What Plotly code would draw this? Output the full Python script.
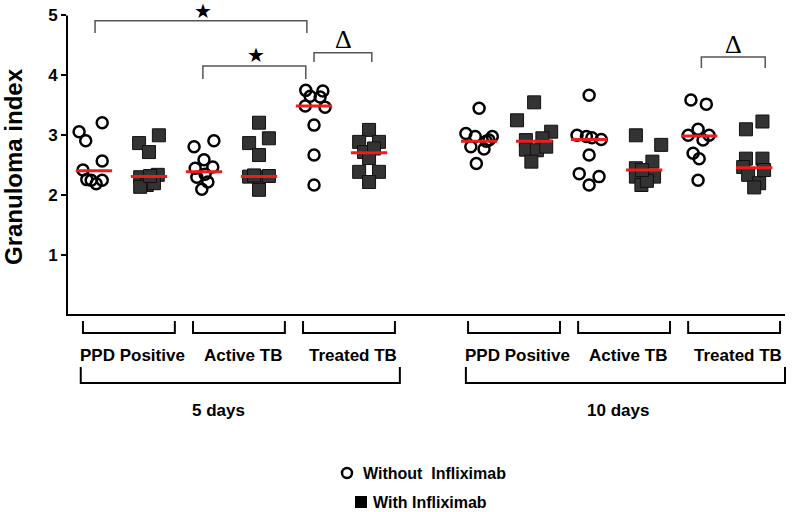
import plotly.graph_objects as go

W, H = 792, 512

# ---------------- data ----------------
days = ["5 days", "10 days"]
groups = ["PPD Positive", "Active TB", "Treated TB"]
y_ticks = [1, 2, 3, 4, 5]
legend_labels = ["Without  Infliximab", "With Infliximab"]

ppd5_without = [3.06, 3.21, 2.91, 2.57, 2.42, 2.25, 2.19, 2.25, 2.26]
ppd5_with = [3.00, 2.87, 2.72, 2.30, 2.34, 2.17, 2.14, 2.20, 2.32]
active5_without = [2.91, 2.81, 2.59, 2.45, 2.47, 2.30, 2.22, 2.10, 2.35]
active5_with = [3.21, 2.95, 2.87, 2.67, 2.31, 2.30, 2.32, 2.09, 2.33]
treated5_without = [3.75, 3.74, 3.65, 3.64, 3.49, 3.47, 3.17, 2.67, 2.17]
treated5_with = [3.09, 2.89, 2.89, 2.72, 2.78, 2.62, 2.39, 2.39, 2.22]
ppd10_without = [3.45, 3.03, 2.98, 2.98, 2.92, 2.81, 2.77, 2.53, 2.90]
ppd10_with = [3.55, 3.25, 3.06, 2.92, 2.95, 2.76, 2.75, 2.81, 2.56]
active10_without = [3.67, 3.00, 2.98, 2.96, 2.93, 2.67, 2.36, 2.31, 2.17]
active10_with = [3.00, 2.84, 2.45, 2.56, 2.31, 2.31, 2.17, 2.24, 2.42]
treated10_without = [3.59, 3.52, 3.10, 3.00, 3.00, 2.92, 2.70, 2.61, 2.25]
treated10_with = [3.23, 3.10, 2.61, 2.61, 2.42, 2.47, 2.34, 2.20, 2.13]

# horizontal scatter of each point inside its column
jit_ppd5_without = [-0.27, 0.15, -0.15, 0.15, -0.20, -0.05, 0.04, 0.15, -0.13]
jit_ppd5_with = [0.18, -0.18, 0.00, -0.16, 0.16, -0.04, -0.16, 0.09, 0.02]
jit_active5_without = [0.18, -0.18, 0.00, -0.16, 0.16, -0.13, 0.07, -0.04, 0.02]
jit_active5_with = [0.00, 0.18, -0.18, 0.00, -0.18, 0.00, 0.18, 0.00, -0.09]
jit_treated5_without = [-0.15, 0.16, -0.07, 0.11, -0.16, 0.20, 0.00, 0.00, 0.00]
jit_treated5_with = [0.00, -0.18, 0.18, -0.09, 0.09, 0.00, -0.18, 0.18, 0.00]
jit_ppd10_without = [0.00, -0.24, -0.07, 0.24, 0.18, -0.15, 0.09, -0.05, 0.13]
jit_ppd10_with = [0.00, -0.31, 0.31, -0.15, 0.15, -0.15, 0.05, 0.22, -0.05]
jit_active10_without = [0.00, -0.22, -0.05, 0.05, 0.22, 0.00, -0.18, 0.18, 0.00]
jit_active10_with = [-0.15, 0.31, -0.15, 0.15, 0.18, -0.15, -0.05, 0.05, -0.04]
jit_treated10_without = [-0.15, 0.13, -0.02, -0.20, 0.18, 0.07, -0.11, 0.00, -0.02]
jit_treated10_with = [0.15, -0.15, -0.15, 0.15, 0.18, -0.20, -0.11, 0.09, 0.00]

median_without = [2.41, 2.39, 3.49, 2.90, 2.93, 2.99]
median_with = [2.31, 2.31, 2.71, 2.90, 2.42, 2.46]

series_without = [ppd5_without, active5_without, treated5_without,
                  ppd10_without, active10_without, treated10_without]
series_with = [ppd5_with, active5_with, treated5_with,
               ppd10_with, active10_with, treated10_with]
jit_without = [jit_ppd5_without, jit_active5_without, jit_treated5_without,
               jit_ppd10_without, jit_active10_without, jit_treated10_without]
jit_with = [jit_ppd5_with, jit_active5_with, jit_treated5_with,
            jit_ppd10_with, jit_active10_with, jit_treated10_with]

# ---------------- layout geometry (screen pixels) ----------------
XR = [-0.49, 12.56]
YR = [0, 5.175]
PL, PR, PT, PB = 67, 785, 5, 315


def px(x):
    return x / W


def py(y):
    return 1 - y / H


def kx(k):
    return PL + (k - XR[0]) / (XR[1] - XR[0]) * (PR - PL)


# column positions: 5 days -> 0..5, gap, 10 days -> 7..12
col_pos = []
for d in range(len(days)):
    for g in range(len(groups)):
        base = d * 7 + g * 2
        col_pos.append((base, base + 1))

fig = go.Figure()

CIRCLE = dict(symbol="circle-open", size=11, color="black", line=dict(width=2.5, color="black"))
SQUARE = dict(symbol="square", size=13, color="#333333", line=dict(width=1, color="#111111"))

for i, (p0, p1) in enumerate(col_pos):
    fig.add_trace(go.Scatter(
        x=[p0 + j for j in jit_without[i]], y=series_without[i], mode="markers",
        marker=CIRCLE, showlegend=False, cliponaxis=False, hoverinfo="y"))
    fig.add_trace(go.Scatter(
        x=[p1 + j for j in jit_with[i]], y=series_with[i], mode="markers",
        marker=SQUARE, showlegend=False, cliponaxis=False, hoverinfo="y"))

for i, (p0, p1) in enumerate(col_pos):
    for p, m in ((p0, median_without[i]), (p1, median_with[i])):
        fig.add_trace(go.Scatter(
            x=[p - 0.33, p + 0.33], y=[m, m], mode="lines",
            line=dict(color="#ee1c1c", width=3), showlegend=False, hoverinfo="skip"))

shapes = []
annotations = []
LBL_FONT = dict(family="Liberation Sans, Arial", size=17, color="black", weight="bold")

# axis lines
shapes.append(dict(type="line", xref="paper", yref="paper", x0=px(PL), x1=px(PL),
                   y0=py(PB + 1), y1=py(15.5), line=dict(color="black", width=2)))
shapes.append(dict(type="line", xref="paper", yref="paper", x0=px(PL - 1), x1=px(PR),
                   y0=py(PB), y1=py(PB), line=dict(color="black", width=2)))


def bracket(x0, x1, ytop, ybot, opening_up, color="black", width=2):
    if opening_up:
        path = f"M {px(x0)},{py(ytop)} L {px(x0)},{py(ybot)} L {px(x1)},{py(ybot)} L {px(x1)},{py(ytop)}"
    else:
        path = f"M {px(x0)},{py(ybot)} L {px(x0)},{py(ytop)} L {px(x1)},{py(ytop)} L {px(x1)},{py(ybot)}"
    shapes.append(dict(type="path", xref="paper", yref="paper", path=path,
                       line=dict(color=color, width=width)))


# group brackets and labels under the axis
day_label_x = [218, 618]
for d in range(len(days)):
    for g in range(len(groups)):
        p0, p1 = col_pos[d * 3 + g]
        bracket(kx(p0 - 0.2), kx(p1 + 0.47), 321, 333, True)
        annotations.append(dict(text=groups[g], x=px(kx(p0 + 0.7)), y=py(355),
                                xref="paper", yref="paper", showarrow=False,
                                xanchor="center", yanchor="middle", font=LBL_FONT))
    first = col_pos[d * 3][0]
    last = col_pos[d * 3 + 2][1]
    bracket(kx(first - 0.24), kx(last + 0.56), 367, 383, True)
    annotations.append(dict(text=days[d], x=px(day_label_x[d]), y=py(410),
                            xref="paper", yref="paper", showarrow=False,
                            xanchor="center", yanchor="middle", font=LBL_FONT))

# significance brackets
GREY = "#555555"
bracket(kx(0.02), kx(3.87), 20.7, 33, False, GREY, 1.5)
bracket(kx(1.98), kx(3.85), 66, 79, False, GREY, 1.5)
bracket(kx(4.0), kx(5.05), 52.7, 62, False, GREY, 1.5)
bracket(kx(11.04), kx(12.2), 57, 68, False, GREY, 1.5)
STAR = dict(family="DejaVu Sans", size=20, color="black")
DELTA = dict(family="Liberation Serif", size=26, color="black")
for (x, y, t, f) in [(kx(1.99), 11, "★", STAR), (kx(2.95), 55, "★", STAR),
                     (kx(4.53), 39, "Δ", DELTA), (kx(11.62), 44, "Δ", DELTA)]:
    annotations.append(dict(text=t, x=px(x), y=py(y), xref="paper", yref="paper",
                            showarrow=False, xanchor="center", yanchor="middle", font=f))

# y title
annotations.append(dict(text="Granuloma index", x=px(13), y=py(167), xref="paper", yref="paper",
                        showarrow=False, textangle=-90, xanchor="center", yanchor="middle",
                        font=dict(family="Liberation Sans, Arial", size=24, color="black", weight="bold")))

# legend (manual)
LEG_FONT = dict(family="Liberation Sans, Arial", size=16, color="black", weight="bold")
shapes.append(dict(type="circle", xref="paper", yref="paper",
                   x0=px(342), x1=px(352), y0=py(468), y1=py(478),
                   line=dict(color="black", width=2.5)))
shapes.append(dict(type="rect", xref="paper", yref="paper",
                   x0=px(355), x1=px(367), y0=py(496), y1=py(508),
                   fillcolor="black", line=dict(color="black", width=0)))
annotations.append(dict(text=legend_labels[0], x=px(361), y=py(473), xref="paper", yref="paper",
                        showarrow=False, xanchor="left", yanchor="middle", font=LEG_FONT))
annotations.append(dict(text=legend_labels[1], x=px(371), y=py(502), xref="paper", yref="paper",
                        showarrow=False, xanchor="left", yanchor="middle", font=LEG_FONT))

fig.update_layout(
    width=W, height=H, margin=dict(l=0, r=0, t=0, b=0),
    paper_bgcolor="white", plot_bgcolor="white",
    xaxis=dict(domain=[px(PL), px(PR)], range=XR, visible=False, fixedrange=True),
    yaxis=dict(domain=[py(PB), py(PT)], range=YR, tickvals=y_ticks, ticks="outside",
               ticklen=5, tickwidth=2, tickcolor="black", showline=False, showgrid=False,
               zeroline=False, ticklabeloverflow="allow",
               tickfont=dict(family="Liberation Sans, Arial", size=17, color="black", weight="bold")),
    shapes=shapes, annotations=annotations,
)

# remove the browser's default page margin so the figure sits at the window origin
fig.write_html("out.html", config={"displayModeBar": False},
               post_script="document.body.style.margin='0px';document.body.style.overflow='hidden';")
